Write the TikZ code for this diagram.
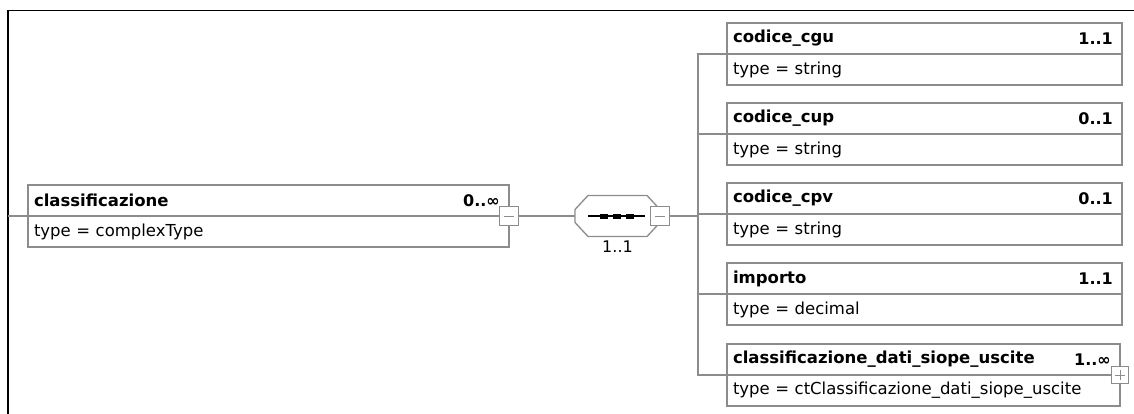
\documentclass[tikz,border=0pt]{standalone}
\usepackage{fontspec}
\setmainfont{DejaVu Sans}
\usetikzlibrary{positioning}

\begin{document}
\begin{tikzpicture}[x=1pt, y=-1pt,
        font=\fontsize{16}{19}\selectfont,
        rahmen/.style={draw=black, line width=1.2pt},
        leiter/.style={draw=black!45, line width=1.3pt},
        kopf/.style={draw=black!45, line width=1.3pt, fill=white, anchor=north west,
            minimum height=31pt, inner xsep=6pt, inner ysep=0pt, outer sep=0pt,
            text width=383pt, align=left, font=\fontsize{16.5}{19}\selectfont\bfseries},
        typ/.style={kopf, font=\fontsize{16.5}{19}\selectfont},
        anz/.style={anchor=east, inner sep=0pt, font=\fontsize{16}{19}\selectfont\bfseries},
        knopf/.style={draw=black!45, line width=1.3pt, fill=white,
            minimum size=19pt, inner sep=0pt, outer sep=0pt},
        minus/.style={knopf, path picture={
            \draw[black!45, line width=1pt]
                ([xshift=-5pt]path picture bounding box.center) --
                ([xshift=5pt]path picture bounding box.center);}},
        plus/.style={knopf, minimum size=17pt, path picture={
            \draw[black!45, line width=1pt]
                ([xshift=-5pt]path picture bounding box.center) --
                ([xshift=5pt]path picture bounding box.center)
                ([yshift=-5pt]path picture bounding box.center) --
                ([yshift=5pt]path picture bounding box.center);}}
    ]
    \useasboundingbox (0,0) rectangle (1134,414);

    % Rahmen
    \draw[rahmen] (8,414) -- (8,10.5) -- (1134,10.5);

    % Element links
    \node[kopf, text width=469pt] (klass) at (28,185) {classificazione};
    \node[typ, text width=469pt, below=0pt of klass] (klass-t) {type = complexType};
    \node[anz] (klass-n) at ([xshift=-9pt]klass.east) {0..∞};
    \node[minus] (klass-m) at (klass.south east) {};

    % Sequenz
    \node[minimum width=85pt, minimum height=41pt, inner sep=0pt, outer sep=0pt]
        (seq) at (617.5,216) {};
    \draw[leiter, fill=white]
        ([xshift=13pt]seq.north west) -- ([xshift=-13pt]seq.north east)
        -- ([yshift=-14pt]seq.north east) -- ([yshift=14pt]seq.south east)
        -- ([xshift=-13pt]seq.south east) -- ([xshift=13pt]seq.south west)
        -- ([yshift=14pt]seq.south west) -- ([yshift=-14pt]seq.north west) -- cycle;
    \draw[black, line width=1.5pt]
        ([xshift=-29.5pt]seq.center) -- ([xshift=27.5pt]seq.center);
    \foreach \dx in {-13.5,-1,12}
        \fill[black] ([xshift=\dx pt-4pt, yshift=2.5pt]seq.center) rectangle +(8,5);
    \node[minus] (seq-m) at (seq.east) {};
    \node[anz, anchor=north, font=\fontsize{16}{19}\selectfont] (seq-n)
        at ([yshift=-4pt]seq.south) {1..1};

    % Kinder
    \node[kopf] (cgu) at (727,23) {codice\_cgu};
    \node[typ, below=0pt of cgu] (cgu-t) {type = string};
    \node[anz] (cgu-n) at ([xshift=-9pt]cgu.east) {1..1};

    \node[kopf] (cup) at (727,103) {codice\_cup};
    \node[typ, below=0pt of cup] (cup-t) {type = string};
    \node[anz] (cup-n) at ([xshift=-9pt]cup.east) {0..1};

    \node[kopf] (cpv) at (727,183) {codice\_cpv};
    \node[typ, below=0pt of cpv] (cpv-t) {type = string};
    \node[anz] (cpv-n) at ([xshift=-9pt]cpv.east) {0..1};

    \node[kopf] (imp) at (727,263) {importo};
    \node[typ, below=0pt of imp] (imp-t) {type = decimal};
    \node[anz] (imp-n) at ([xshift=-9pt]imp.east) {1..1};

    \node[kopf, text width=381pt] (siope) at (727,344) {classificazione\_dati\_siope\_uscite};
    \node[typ, text width=381pt, below=0pt of siope] (siope-t) {type = ctClassificazione\_dati\_siope\_uscite};
    \node[anz] (siope-n) at ([xshift=-9pt]siope.east) {1..∞};
    \node[plus] (siope-p) at (siope.south east) {};

    % Leitungen
    \coordinate (ein) at (8,216);
    \coordinate (ast) at (698,216);
    \draw[leiter] (ein) -- (klass.south west);
    \draw[leiter] (klass-m) -- (seq.west);
    \draw[leiter] (seq-m) -- (ast);
    \draw[leiter] (ast) |- (cgu.south west);
    \draw[leiter] (ast) |- (cup.south west);
    \draw[leiter] (ast) |- (cpv.south west);
    \draw[leiter] (ast) |- (imp.south west);
    \draw[leiter] (ast) |- (siope.south west);

\end{tikzpicture}
\end{document}
